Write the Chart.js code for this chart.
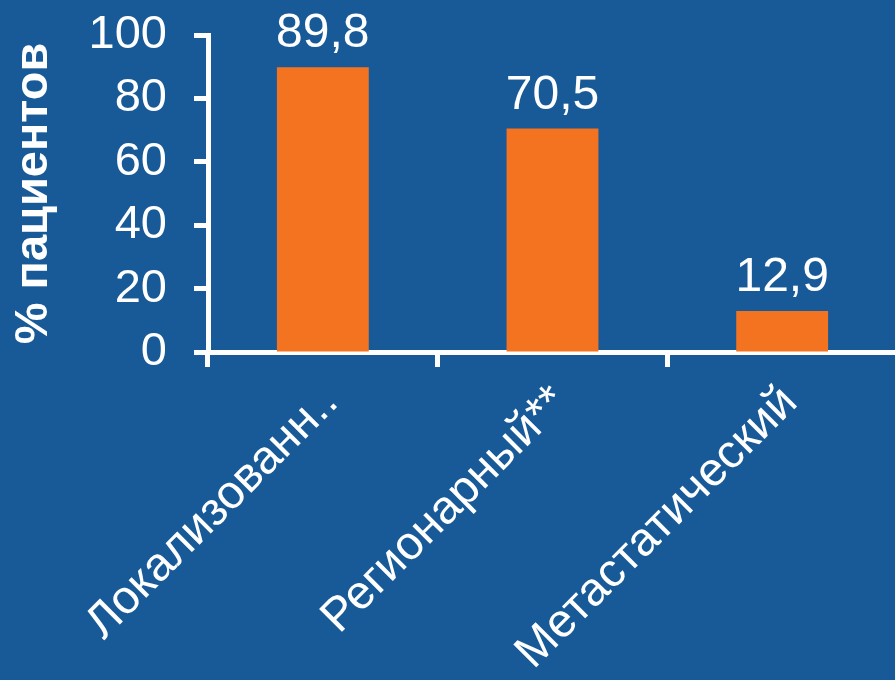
<!DOCTYPE html>
<html>
<head>
<meta charset="utf-8">
<script src="https://cdn.jsdelivr.net/npm/chart.js@4.4.1/dist/chart.umd.min.js"></script>
<style>
    html, body { margin: 0; padding: 0; background: #175A97; overflow: hidden; }
    #wrap { width: 897px; height: 680px; position: relative; }
</style>
</head>
<body>
<div id="wrap"><canvas id="chart"></canvas></div>
<script>
// ===== Данные =====
const categories = ["Локализованн..", "Регионарный**", "Метастатический"];
const values = [89.8, 70.5, 12.9];
const valueLabels = ["89,8", "70,5", "12,9"];
const yTicks = [0, 20, 40, 60, 80, 100];

const BG = '#175A97';
const BAR = '#F47321';
const FONT = "'Liberation Sans', Arial, sans-serif";

// ===== Подписи значений над столбцами =====
const valueLabelPlugin = {
    id: 'valueLabels',
    afterDatasetsDraw(chart) {
        const ctx = chart.ctx;
        const meta = chart.getDatasetMeta(0);
        ctx.save();
        ctx.fillStyle = '#FFFFFF';
        ctx.font = '48px ' + FONT;
        ctx.textAlign = 'center';
        ctx.textBaseline = 'alphabetic';
        meta.data.forEach((bar, i) => {
            ctx.fillText(valueLabels[i], bar.x, bar.y - 20);
        });
        ctx.restore();
    }
};

new Chart(document.getElementById('chart'), {
    type: 'bar',
    data: {
        labels: categories,
        datasets: [{
            data: values,
            backgroundColor: BAR,
            borderWidth: 0,
            categoryPercentage: 1,
            barPercentage: 0.4
        }]
    },
    options: {
        responsive: true,
        maintainAspectRatio: false,
        animation: false,
        layout: { padding: { top: 35, right: 0, bottom: 0, left: 0 } },
        plugins: {
            legend: { display: false },
            tooltip: { enabled: false }
        },
        scales: {
            x: {
                grid: {
                    display: true,
                    drawOnChartArea: false,
                    drawTicks: true,
                    tickLength: 15,
                    tickWidth: 5,
                    tickColor: '#FFFFFF',
                    offset: true
                },
                border: { display: true, color: '#FFFFFF', width: 5 },
                ticks: {
                    color: '#FFFFFF',
                    font: { family: FONT, size: 47 },
                    minRotation: 45,
                    maxRotation: 45,
                    autoSkip: false,
                    padding: 8,
                    labelOffset: 8
                },
                afterFit(scale) {
                    scale.height = 328;
                    scale.paddingLeft = 0;
                    scale.paddingRight = 0;
                }
            },
            y: {
                min: 0,
                max: 100,
                afterBuildTicks(scale) {
                    scale.ticks = yTicks.map(v => ({ value: v }));
                },
                grid: {
                    display: true,
                    drawOnChartArea: false,
                    drawTicks: true,
                    tickLength: 14,
                    tickWidth: 5,
                    tickColor: '#FFFFFF'
                },
                border: { display: true, color: '#FFFFFF', width: 5 },
                ticks: {
                    color: '#FFFFFF',
                    font: { family: FONT, size: 47 },
                    padding: 27,
                    autoSkip: false
                },
                title: {
                    display: true,
                    text: '% пациентов',
                    color: '#FFFFFF',
                    font: { family: FONT, size: 47, weight: 'bold' },
                    padding: { top: 6, bottom: 0 }
                },
                afterFit(scale) {
                    scale.width = 208;
                    scale.paddingTop = 0;
                    scale.paddingBottom = 0;
                }
            }
        }
    },
    plugins: [valueLabelPlugin]
});
</script>
</body>
</html>
